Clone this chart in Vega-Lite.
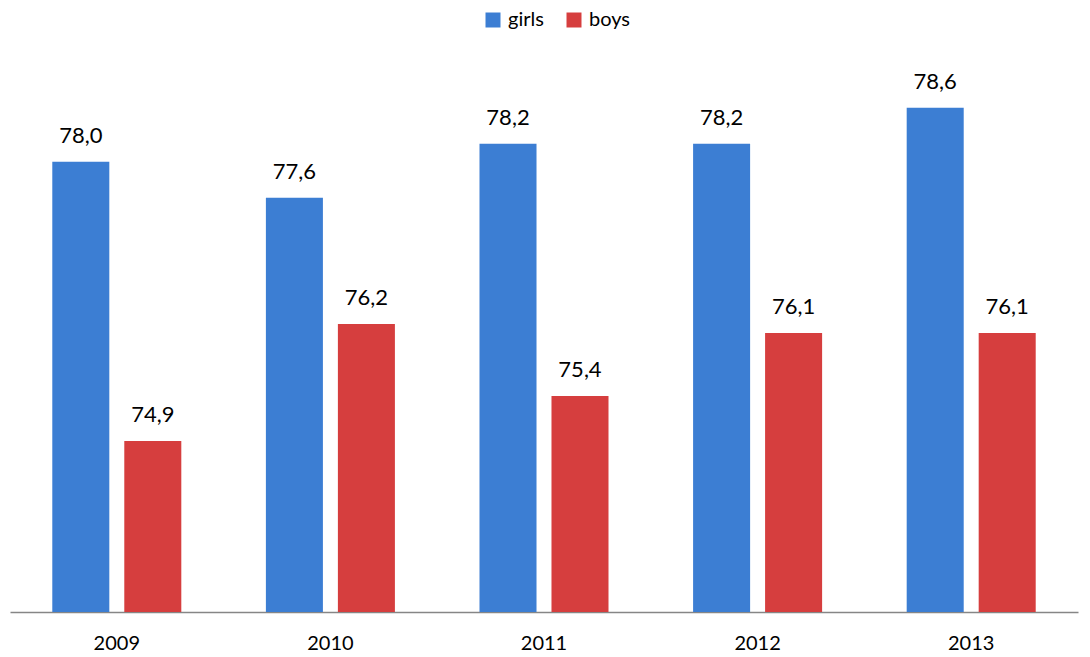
{
  "$schema": "https://vega.github.io/schema/vega-lite/v6.json",
  "width": 1068,
  "height": 542,
  "autosize": {"type": "none"},
  "padding": {"left": 10, "top": 70, "right": 12, "bottom": 45},
  "background": "white",
  "config": {
    "view": {"stroke": null},
    "font": "Lato",
    "locale": {"number": {"decimal": ",", "thousands": ".", "grouping": [3], "currency": ["", " €"]}}
  },
  "data": {
    "values": [
      {"year": "2009", "sex": "girls", "value": 78.0},
      {"year": "2009", "sex": "boys", "value": 74.9},
      {"year": "2010", "sex": "girls", "value": 77.6},
      {"year": "2010", "sex": "boys", "value": 76.2},
      {"year": "2011", "sex": "girls", "value": 78.2},
      {"year": "2011", "sex": "boys", "value": 75.4},
      {"year": "2012", "sex": "girls", "value": 78.2},
      {"year": "2012", "sex": "boys", "value": 76.1},
      {"year": "2013", "sex": "girls", "value": 78.6},
      {"year": "2013", "sex": "boys", "value": 76.1}
    ]
  },
  "encoding": {
    "x": {
      "field": "year", "type": "nominal", "title": null,
      "scale": {"paddingInner": 0.396, "paddingOuter": 0.198},
      "axis": {"labelAngle": 0, "ticks": false, "labelPadding": 21, "labelFontSize": 20, "labelColor": "#000000", "domainColor": "#868686", "domainWidth": 1.5, "grid": false}
    },
    "xOffset": {"field": "sex", "type": "nominal", "sort": ["girls", "boys"], "scale": {"paddingInner": 0.208, "paddingOuter": 0}},
    "y": {
      "field": "value", "type": "quantitative", "title": null,
      "scale": {"domain": [73, 79.02], "zero": false, "nice": false},
      "axis": null
    }
  },
  "layer": [
    {
      "mark": {"type": "bar", "clip": true, "y2": {"expr": "scale('y', 73)"}},
      "encoding": {
        "color": {
          "field": "sex", "type": "nominal", "sort": ["girls", "boys"],
          "scale": {"domain": ["girls", "boys"], "range": ["#3c7ed3", "#d63e3e"]},
          "legend": {
            "title": null, "orient": "none", "direction": "horizontal",
            "legendX": 473, "legendY": -60, "symbolType": "square", "symbolSize": 225,
            "labelFontSize": 20, "labelColor": "#000000", "columnPadding": 20, "labelOffset": 5, "symbolStrokeWidth": 0
          }
        }
      }
    },
    {
      "mark": {"type": "text", "baseline": "bottom", "dy": -14, "fontSize": 22, "color": "#000000"},
      "encoding": {
        "text": {"field": "value", "type": "quantitative", "format": ".1f"}
      }
    }
  ]
}
